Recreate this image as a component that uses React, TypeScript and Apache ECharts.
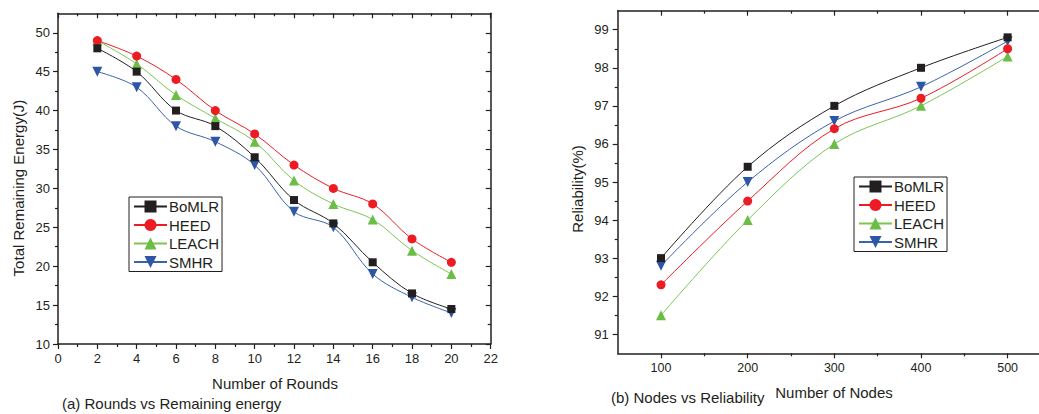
import React, { useEffect, useRef } from "react";
import * as echarts from "echarts";

// ---------- data ----------
const seriesNames = ["BoMLR", "HEED", "LEACH", "SMHR"];

const rounds = [2, 4, 6, 8, 10, 12, 14, 16, 18, 20];
const energyBoMLR = [48, 45, 40, 38, 34, 28.5, 25.5, 20.5, 16.5, 14.5];
const energyHEED = [49, 47, 44, 40, 37, 33, 30, 28, 23.5, 20.5];
const energyLEACH = [49, 46, 42, 39, 36, 31, 28, 26, 22, 19];
const energySMHR = [45, 43, 38, 36, 33, 27, 25, 19, 16, 14];

const nodes = [100, 200, 300, 400, 500];
const relBoMLR = [93, 95.4, 97, 98, 98.8];
const relHEED = [92.3, 94.5, 96.4, 97.2, 98.5];
const relLEACH = [91.5, 94, 96, 97, 98.3];
const relSMHR = [92.8, 95, 96.6, 97.5, 98.7];

const roundTicks = [0, 2, 4, 6, 8, 10, 12, 14, 16, 18, 20, 22];
const roundMinor = [1, 3, 5, 7, 9, 11, 13, 15, 17, 19, 21];
const energyTicks = [10, 15, 20, 25, 30, 35, 40, 45, 50];
const energyMinor = [12.5, 17.5, 22.5, 27.5, 32.5, 37.5, 42.5, 47.5];
const nodeTicks = [100, 200, 300, 400, 500];
const nodeMinor = [150, 250, 350, 450];
const relTicks = [91, 92, 93, 94, 95, 96, 97, 98, 99];
const relMinor = [91.5, 92.5, 93.5, 94.5, 95.5, 96.5, 97.5, 98.5];

const titleA = "(a) Rounds vs Remaining energy";
const titleB = "(b) Nodes vs Reliability";
const xNameA = "Number of Rounds";
const yNameA = "Total Remaining Energy(J)";
const xNameB = "Number of Nodes";
const yNameB = "Reliability(%)";

// ---------- style ----------
const FONT = '"Liberation Sans", Arial, Helvetica, sans-serif';
const INK = "#231f20";
const COLORS = ["#231f20", "#ed1c24", "#6abd45", "#2e56a6"];
const LINECOLORS = ["#231f20", "#ed1c24", "#7cc653", "#3a62b0"];
const SYMBOLS = ["rect", "circle", "triangle", "path://M0,0 L10,0 L5,9 Z"];
const SYMSIZE = [8, 9, 10, 10];

function axisPair(
  gridIndex: number,
  position: string,
  min: number,
  max: number,
  major: number[],
  minor: number[],
  opts: { labels: boolean; inside: boolean; fontSize?: number; margin?: number }
) {
  const base: any = {
    type: "value",
    gridIndex,
    position,
    min,
    max,
    splitLine: { show: false },
    axisLine: { show: true, onZero: false, lineStyle: { color: INK, width: 1.5 } },
    axisTick: {
      show: true,
      inside: opts.inside,
      length: 5,
      customValues: major,
      lineStyle: { color: INK, width: 1.2 },
    },
    axisLabel: opts.labels
      ? {
          show: true,
          customValues: major,
          color: INK,
          fontFamily: FONT,
          fontSize: opts.fontSize ?? 13,
          margin: opts.margin ?? 8,
        }
      : { show: false },
  };
  const minorAxis: any = {
    type: "value",
    gridIndex,
    position,
    min,
    max,
    splitLine: { show: false },
    axisLine: { show: false, onZero: false },
    axisTick: {
      show: true,
      inside: opts.inside,
      length: 3,
      customValues: minor,
      lineStyle: { color: INK, width: 1.2 },
    },
    axisLabel: { show: false },
  };
  return [base, minorAxis];
}

function makeSeries(xs: number[], ys: number[][], axisIndex: number) {
  return ys.map((vals, i) => ({
    type: "line",
    name: seriesNames[i],
    xAxisIndex: axisIndex,
    yAxisIndex: axisIndex,
    data: xs.map((x, j) => [x, vals[j]]),
    smooth: 0.35,
    symbol: SYMBOLS[i],
    symbolSize: SYMSIZE[i],
    showAllSymbol: true,
    z: 10 - i,
    itemStyle: { color: COLORS[i] },
    lineStyle: { color: LINECOLORS[i], width: 1 },
  }));
}

function legendFor(left: number, top: number) {
  return {
    data: seriesNames,
    orient: "vertical",
    left,
    top,
    padding: [2, 3, 2, 4],
    itemGap: 3.5,
    itemWidth: 33,
    itemHeight: 15,
    borderColor: INK,
    borderWidth: 1,
    borderRadius: 0,
    backgroundColor: "#fff",
    selectedMode: false,
    textStyle: { color: INK, fontFamily: FONT, fontSize: 15, padding: [0, 0, 0, -3] },
  };
}

export default function App() {
  const ref = useRef<HTMLDivElement>(null);

  useEffect(() => {
    if (!ref.current) return;
    const chart = echarts.init(ref.current, undefined, { renderer: "svg" });

    const xA = axisPair(0, "bottom", 0, 22, roundTicks, roundMinor, { labels: true, inside: false, fontSize: 13, margin: 8 });
    const xAtop = axisPair(0, "top", 0, 22, roundTicks, roundMinor, { labels: false, inside: true });
    const xB = axisPair(1, "bottom", 50, 536.2, nodeTicks, nodeMinor, { labels: true, inside: false, fontSize: 12.5, margin: 8 });
    const xBtop = axisPair(1, "top", 50, 536.2, nodeTicks, nodeMinor, { labels: false, inside: true });

    const yA = axisPair(0, "left", 10, 52.5, energyTicks, energyMinor, { labels: true, inside: false, fontSize: 13, margin: 8 });
    const yAright = axisPair(0, "right", 10, 52.5, energyTicks, energyMinor, { labels: false, inside: true });
    const yB = axisPair(1, "left", 90.5, 99.5, relTicks, relMinor, { labels: true, inside: false, fontSize: 13, margin: 9 });

    const option: any = {
      animation: false,
      backgroundColor: "#fff",
      textStyle: { fontFamily: FONT },
      grid: [
        { left: 58, top: 13.3, width: 432.7, height: 330.7, containLabel: false },
        { left: 617.7, top: 10.7, width: 421.4, height: 342.6, containLabel: false },
      ],
      xAxis: [...xA, ...xAtop, ...xB, ...xBtop],
      yAxis: [...yA, ...yAright, ...yB],
      legend: [legendFor(129, 197), legendFor(854, 177)],
      series: [
        ...makeSeries(rounds, [energyBoMLR, energyHEED, energyLEACH, energySMHR], 0),
        ...makeSeries(nodes, [relBoMLR, relHEED, relLEACH, relSMHR], 4),
      ],
      graphic: [
        {
          type: "text",
          x: 275,
          y: 383,
          style: { text: xNameA, fill: INK, font: `15px ${FONT}`, align: "center", verticalAlign: "middle" },
        },
        {
          type: "text",
          x: 62,
          y: 403,
          style: { text: titleA, fill: INK, font: `15px ${FONT}`, align: "left", verticalAlign: "middle" },
        },
        {
          type: "text",
          x: 18,
          y: 188,
          rotation: Math.PI / 2,
          style: { text: yNameA, fill: INK, font: `15px ${FONT}`, align: "center", verticalAlign: "middle" },
        },
        {
          type: "text",
          x: 834,
          y: 392,
          style: { text: xNameB, fill: INK, font: `15px ${FONT}`, align: "center", verticalAlign: "middle" },
        },
        {
          type: "text",
          x: 611,
          y: 397,
          style: { text: titleB, fill: INK, font: `15px ${FONT}`, align: "left", verticalAlign: "middle" },
        },
        {
          type: "text",
          x: 577,
          y: 189,
          rotation: Math.PI / 2,
          style: { text: yNameB, fill: INK, font: `15px ${FONT}`, align: "center", verticalAlign: "middle" },
        },
      ],
    };

    chart.setOption(option);
    return () => chart.dispose();
  }, []);

  return (
    <div
      ref={ref}
      style={{ position: "fixed", left: 0, top: 0, width: 1039, height: 414, background: "#fff" }}
    />
  );
}
